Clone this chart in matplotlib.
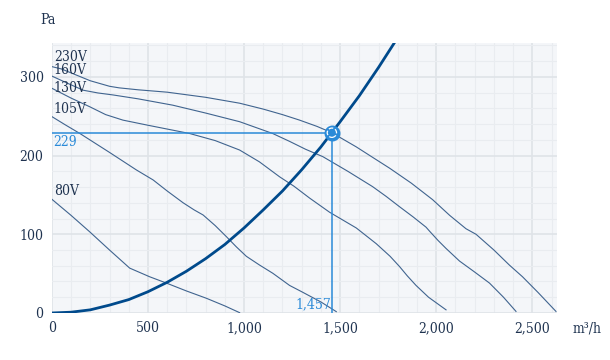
import matplotlib.pyplot as plt
import numpy as np
from matplotlib.ticker import MultipleLocator, FuncFormatter

# fan curves (airflow m3/h, pressure Pa)
x_230 = [0, 50, 100, 150, 200, 250, 300, 350, 450, 600, 800, 977, 1100, 1200, 1289, 1380, 1457,
         1584, 1680, 1757, 1870, 1981, 2070, 2155, 2207, 2300, 2380, 2449, 2530, 2623]
y_230 = [313, 310, 305, 300, 295, 291.5, 288, 286, 283.5, 280.5, 274, 266.5, 259, 252, 245, 237, 229,
         211, 196, 184, 165, 144, 124, 107, 100, 80, 61, 46, 26, 2]

x_160 = [0, 80, 163, 240, 318, 450, 629, 800, 977, 1149, 1237, 1320, 1410, 1540, 1669, 1740, 1809,
         1880, 1947, 1965, 2010, 2051, 2121, 2200, 2277, 2350, 2415]
y_160 = [301, 292, 283, 279.5, 277, 272, 264, 254, 243, 228, 218, 208, 198.6, 180, 160.5, 148, 135,
         122, 109, 104, 92, 82, 66, 52, 38, 20, 2]

x_130 = [0, 100, 197, 280, 370, 500, 717, 850, 977, 1080, 1185, 1260, 1341, 1445, 1584, 1688, 1760,
         1809, 1850, 1895, 1960, 2051]
y_130 = [285.5, 273, 262, 252, 245, 238.5, 228, 219, 207, 192, 173, 161, 146, 128, 108, 88, 72,
         59, 47, 35, 20, 4]

x_105 = [0, 70, 146, 300, 440, 527, 600, 683, 740, 787, 850, 908, 960, 1012, 1080, 1150, 1237,
         1300, 1400, 1480]
y_105 = [249.5, 239, 228, 204, 181.7, 169, 155, 140, 131, 124.5, 111, 97, 84, 72, 61, 50.4, 35,
         27, 14, 1.7]

x_80 = [0, 100, 197.5, 300, 405, 509, 596, 700, 804, 900, 977]
y_80 = [144.5, 124, 103, 80, 57, 46, 38, 28, 18.7, 9, 0.4]

# system curve
x_sys = [0, 100, 200, 300, 400, 500, 600, 700, 800, 900, 1000, 1100, 1200, 1300, 1400, 1500, 1600, 1700, 1800]
y_sys = [0, 1, 4, 10, 17, 27, 39, 53, 69, 87, 108, 131, 155, 182, 211, 243, 276, 312, 350]

op_x = 1457
op_y = 229

labels = ['230V', '160V', '130V', '105V', '80V']
label_y = [325, 309, 286, 259, 155]

plt.rcParams['font.family'] = ['DejaVu Serif']
plt.rcParams['font.stretch'] = 'condensed'

txt = '#1f3350'
curve_col = '#40648f'
sys_col = '#004a8c'
op_col = '#2a8ad8'

fig = plt.figure(figsize=(6.1, 3.6), dpi=100)
ax = fig.add_axes([0.085, 0.1306, 0.828, 0.75])
ax.set_facecolor('#f4f6f9')

for xs, ys in [(x_230, y_230), (x_160, y_160), (x_130, y_130), (x_105, y_105), (x_80, y_80)]:
    ax.plot(xs, ys, color=curve_col, lw=0.8, zorder=3, solid_joinstyle='round')

ax.plot(x_sys, y_sys, color=sys_col, lw=2, zorder=4)

ax.plot([0, op_x], [op_y, op_y], color=op_col, lw=1.1, zorder=3)
ax.plot([op_x, op_x], [0, op_y], color=op_col, lw=1.1, zorder=3)
ax.scatter([op_x], [op_y], s=110, color=op_col, zorder=5, edgecolors=op_col)
ax.scatter([op_x], [op_y], s=45, facecolors='none', edgecolors='white', linestyles='--', linewidths=0.9, zorder=6)

for lab, ly in zip(labels, label_y):
    ax.text(10, ly, lab, color=txt, fontsize=10, va='center', ha='left', zorder=7)

ax.text(8, op_y - 3, str(op_y), color=op_col, fontsize=10, va='top', ha='left', zorder=7)
ax.text(op_x - 5, 2, '{:,}'.format(op_x), color=op_col, fontsize=10, va='bottom', ha='right', zorder=7)

ax.set_xlim(0, 2628)
ax.set_ylim(0, 343)
ax.xaxis.set_major_locator(MultipleLocator(500))
ax.xaxis.set_minor_locator(MultipleLocator(100))
ax.yaxis.set_major_locator(MultipleLocator(100))
ax.yaxis.set_minor_locator(MultipleLocator(20))
ax.xaxis.set_major_formatter(FuncFormatter(lambda v, p: '{:,}'.format(int(v))))
ax.grid(which='major', color='#dfe3e8', lw=1.2, zorder=0)
ax.grid(which='minor', color='#e9ecf0', lw=0.8, zorder=0)
ax.set_axisbelow(True)
for s in ax.spines.values():
    s.set_visible(False)
ax.tick_params(which='both', length=0, labelsize=10, labelcolor=txt, pad=6)

fig.text(40 / 610, 1 - 20 / 360, 'Pa', color=txt, fontsize=10, ha='left', va='center')
fig.text(573 / 610, 1 - 328 / 360, 'm³/h', color=txt, fontsize=10, ha='left', va='center')

fig.savefig('out.png', dpi=100)
